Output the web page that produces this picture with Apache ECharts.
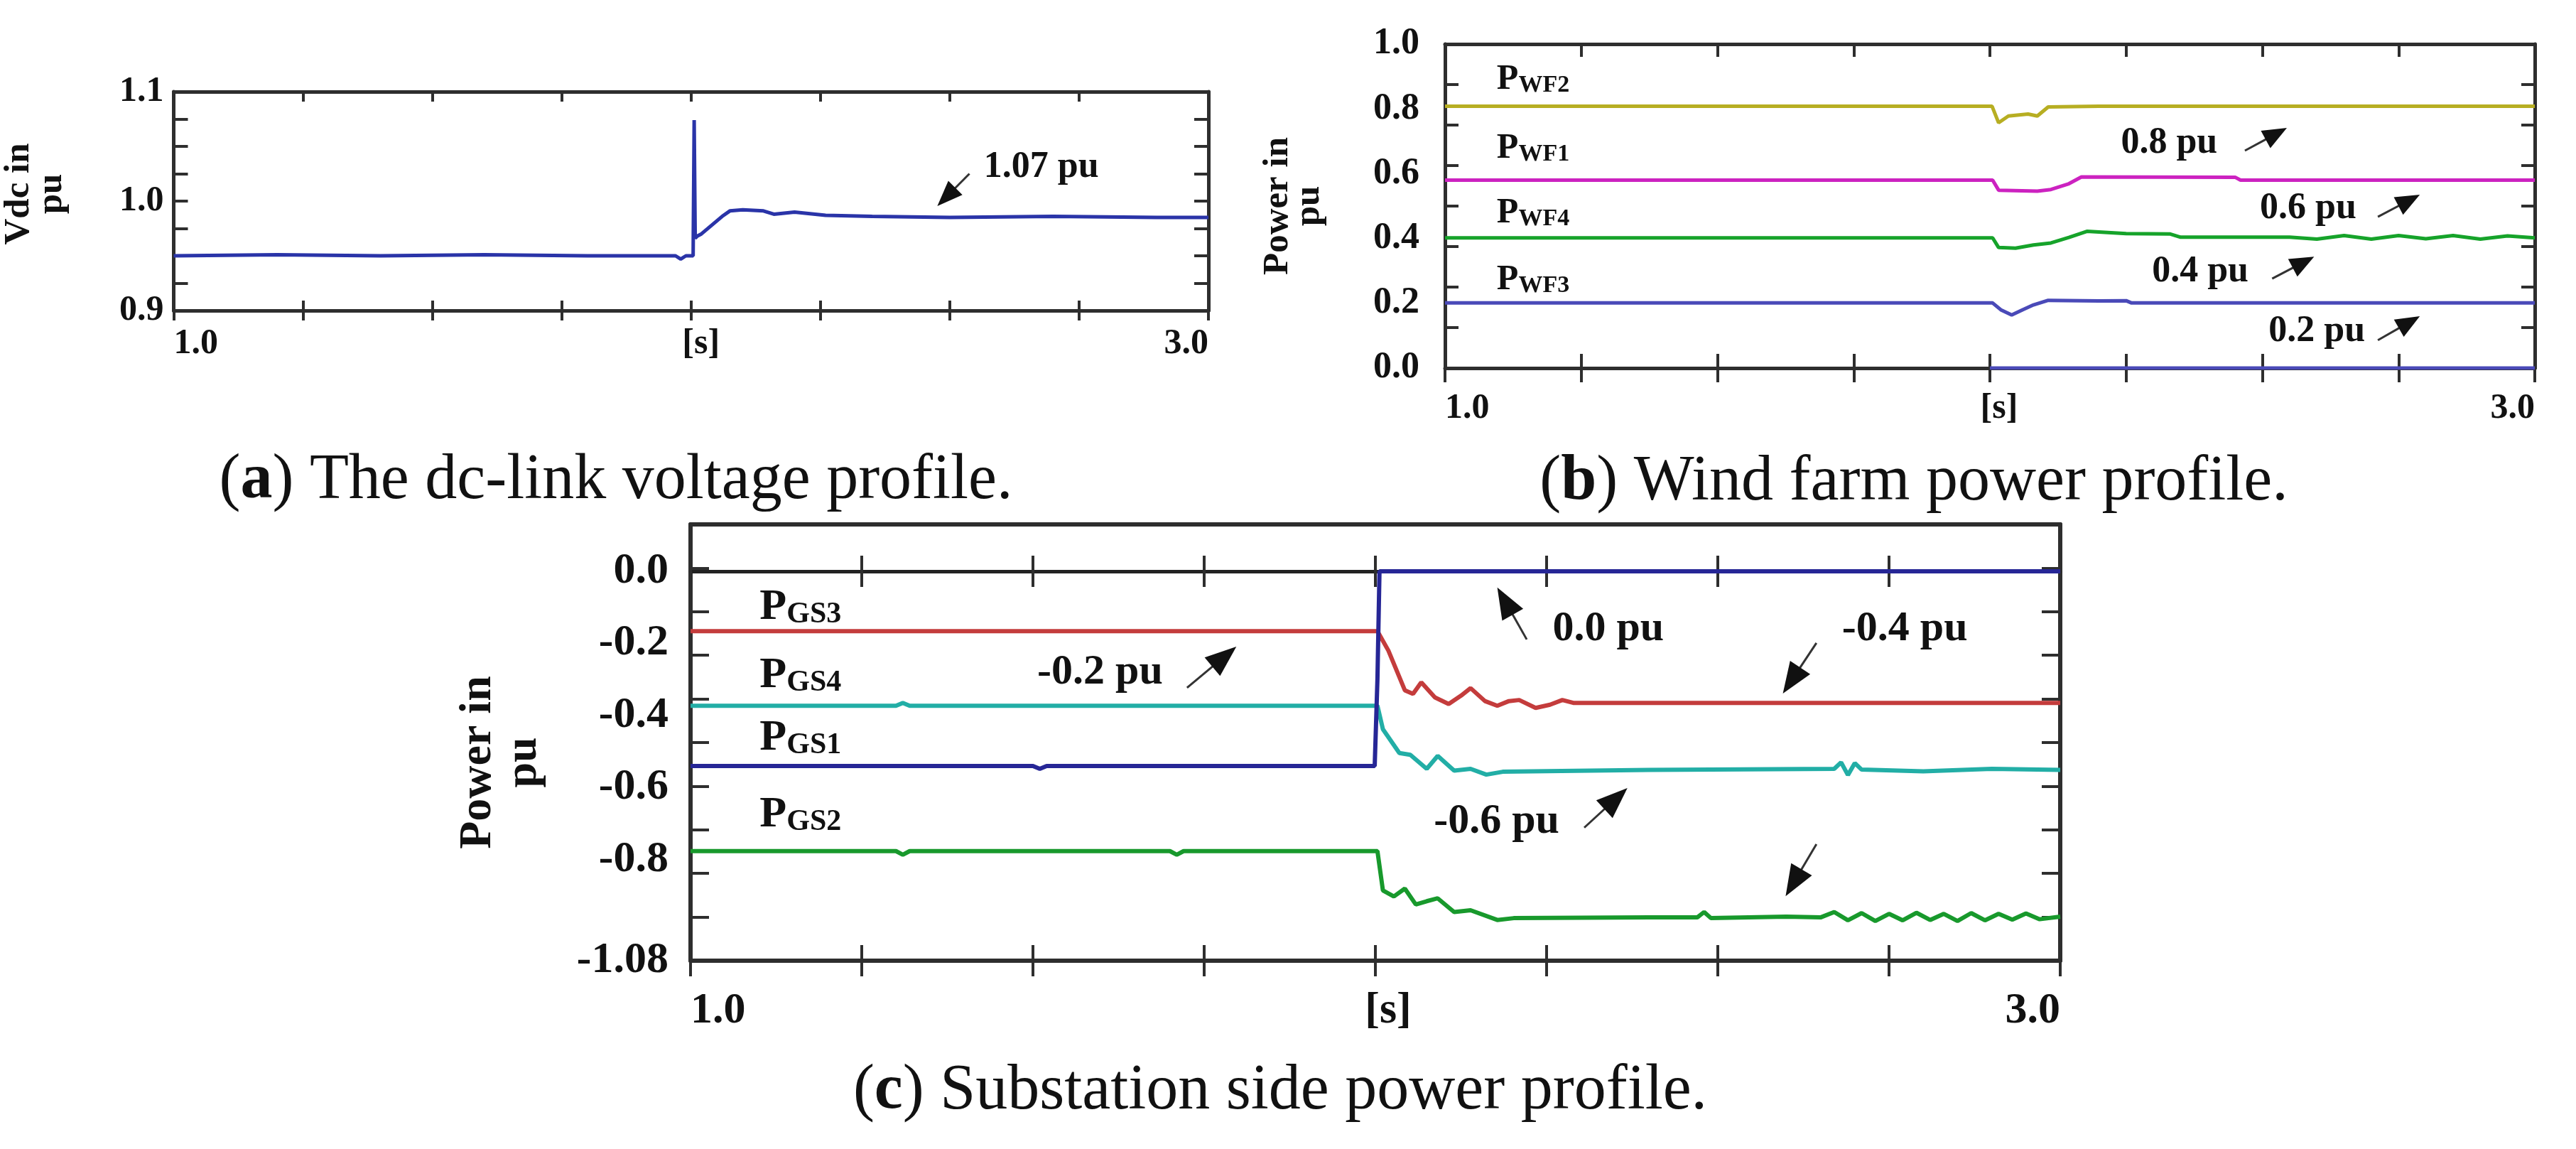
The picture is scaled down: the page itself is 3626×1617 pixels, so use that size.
<!DOCTYPE html>
<html>
<head>
<meta charset="utf-8">
<script src="https://cdn.jsdelivr.net/npm/echarts@6/dist/echarts.min.js"></script>
<style>
html,body{margin:0;padding:0;background:#fff;}
#c{width:3626px;height:1617px;}
</style>
</head>
<body>
<div id="c"></div>
<script>
// ---------------- data ----------------
const timeMin = 1.0, timeMax = 3.0, timeStep = 0.25;
const xTickValues = [1.0, 2.0, 3.0];
const xTickTexts = ['1.0', '[s]', '3.0'];

const vdcTickValues = [0.9, 1.0, 1.1];
const wfTickValues = [0.0, 0.2, 0.4, 0.6, 0.8, 1.0];
const gsTickValues = [0.0, -0.2, -0.4, -0.6, -0.8, -1.08];
const gsTickTexts = ['0.0', '-0.2', '-0.4', '-0.6', '-0.8', '-1.08'];

// (a) dc-link voltage  [time s, pu]
const vdc = [[1.0,0.950],[1.2,0.951],[1.4,0.950],[1.6,0.951],[1.8,0.950],[1.97,0.950],[1.98,0.947],[1.99,0.950],
  [2.004,0.950],[2.006,1.074],[2.008,0.966],[2.012,0.968],[2.02,0.970],[2.04,0.978],[2.06,0.986],[2.075,0.991],
  [2.1,0.992],[2.14,0.991],[2.16,0.988],[2.2,0.990],[2.26,0.987],[2.35,0.986],[2.5,0.985],[2.7,0.986],[2.9,0.985],[3.0,0.985]];

// (b) wind farm powers
const pwf2 = [[1.0,0.808],[2.004,0.808],[2.016,0.757],[2.034,0.778],[2.07,0.784],[2.087,0.778],[2.107,0.806],[2.2,0.808],[3.0,0.808]];
const pwf1 = [[1.0,0.580],[2.005,0.580],[2.016,0.549],[2.087,0.546],[2.112,0.551],[2.145,0.569],[2.168,0.590],[2.45,0.589],[2.46,0.580],[3.0,0.580]];
const pwf4 = [[1.0,0.402],[2.005,0.402],[2.016,0.372],[2.047,0.370],[2.08,0.380],[2.112,0.386],[2.145,0.403],[2.178,0.422],
  [2.25,0.415],[2.33,0.414],[2.35,0.404],[2.55,0.404],[2.6,0.398],[2.65,0.409],[2.7,0.398],[2.75,0.409],[2.8,0.399],
  [2.85,0.409],[2.9,0.398],[2.95,0.408],[3.0,0.402]];
const pwf3 = [[1.0,0.201],[2.005,0.201],[2.02,0.180],[2.04,0.164],[2.06,0.180],[2.08,0.195],[2.107,0.209],[2.2,0.207],[2.25,0.208],[2.26,0.201],[3.0,0.201]];
const pwfZero = [[2.0,0.0],[3.0,0.0]];

// (c) substation side powers
const pgs1 = [[1.0,-0.540],[1.5,-0.540],[1.51,-0.548],[1.52,-0.540],[1.999,-0.540],[2.003,-0.300],[2.006,0.0],[3.0,0.0]];
const pgs3 = [[1.0,-0.166],[2.003,-0.166],[2.019,-0.220],[2.043,-0.330],[2.055,-0.340],[2.067,-0.308],[2.087,-0.350],
  [2.107,-0.368],[2.125,-0.345],[2.139,-0.324],[2.16,-0.360],[2.178,-0.373],[2.195,-0.360],[2.21,-0.357],[2.234,-0.379],
  [2.255,-0.370],[2.273,-0.357],[2.289,-0.365],[3.0,-0.365]];
const pgs4 = [[1.0,-0.373],[1.3,-0.373],[1.31,-0.365],[1.32,-0.373],[2.003,-0.373],[2.011,-0.438],[2.035,-0.504],
  [2.051,-0.509],[2.075,-0.548],[2.091,-0.512],[2.115,-0.553],[2.139,-0.548],[2.162,-0.564],[2.186,-0.556],[2.4,-0.551],
  [2.67,-0.548],[2.68,-0.530],[2.69,-0.565],[2.70,-0.532],[2.71,-0.550],[2.8,-0.555],[2.9,-0.548],[3.0,-0.551]];
const pgs2 = [[1.0,-0.776],[1.3,-0.776],[1.31,-0.786],[1.32,-0.776],[1.7,-0.776],[1.71,-0.786],[1.72,-0.776],[2.003,-0.776],
  [2.011,-0.885],[2.027,-0.902],[2.043,-0.880],[2.059,-0.924],[2.075,-0.915],[2.091,-0.907],[2.115,-0.945],[2.139,-0.940],
  [2.178,-0.967],[2.202,-0.962],[2.4,-0.960],[2.47,-0.960],[2.48,-0.945],[2.49,-0.962],[2.6,-0.958],[2.65,-0.960],
  [2.67,-0.945],[2.69,-0.968],[2.71,-0.948],[2.73,-0.970],[2.75,-0.950],[2.77,-0.968],[2.79,-0.947],[2.81,-0.967],
  [2.83,-0.950],[2.85,-0.970],[2.87,-0.948],[2.89,-0.968],[2.91,-0.950],[2.93,-0.966],[2.95,-0.949],[2.97,-0.965],[3.0,-0.958]];

// annotations (data coordinates of each panel)
const annotA = [{text:'1.07 pu', at:[2.677,1.031], from:[2.538,1.025], to:[2.476,0.9955]}];
const annotB = [
  {text:'0.8 pu', at:[2.329,0.693], from:[2.468,0.671], to:[2.545,0.741]},
  {text:'0.6 pu', at:[2.584,0.493], from:[2.712,0.467], to:[2.789,0.535]},
  {text:'0.4 pu', at:[2.386,0.296], from:[2.518,0.276], to:[2.595,0.344]},
  {text:'0.2 pu', at:[2.600,0.112], from:[2.712,0.086], to:[2.789,0.160]}
];
const annotC = [
  {text:'-0.2 pu', at:[1.598,-0.280], from:[1.725,-0.323], to:[1.797,-0.209]},
  {text:'0.0 pu',  at:[2.340,-0.160], from:[2.221,-0.189], to:[2.178,-0.045]},
  {text:'-0.4 pu', at:[2.773,-0.160], from:[2.644,-0.199], to:[2.595,-0.339]},
  {text:'-0.6 pu', at:[2.177,-0.694], from:[2.305,-0.711], to:[2.368,-0.601]},
  {text:'',        at:null,           from:[2.644,-0.757], to:[2.599,-0.901]}
];
const namesB = [{sub:'WF2', at:[1.095,0.890]},{sub:'WF1', at:[1.095,0.678]},{sub:'WF4', at:[1.095,0.478]},{sub:'WF3', at:[1.095,0.272]}];
const namesC = [{sub:'GS3', at:[1.101,-0.100]},{sub:'GS4', at:[1.101,-0.290]},{sub:'GS1', at:[1.101,-0.463]},{sub:'GS2', at:[1.101,-0.676]}];

// ---------------- chart ----------------
const FONT = '"Liberation Serif", "Times New Roman", serif';
const AX = '#2e2e2e';
const chart = echarts.init(document.getElementById('c'), null, {renderer:'canvas', width:3626, height:1617});

function fmtX(v){
  for (let i = 0; i < xTickValues.length; i++) {
    if (Math.abs(v - xTickValues[i]) < 1e-6) return xTickTexts[i] === '[s]' ? '{s|[s]}' : xTickTexts[i];
  }
  return '';
}

function xAxesFor(gi, c){
  const base = {type:'value', gridIndex:gi, min:timeMin, max:timeMax, interval:timeStep, splitLine:{show:false}};
  const tl = {color:AX, width:4};
  return [
    Object.assign({}, base, {position:'bottom',
      axisLine:{show:true, onZero:false, lineStyle:{color:AX, width:c.lw}},
      axisTick:{show:true, inside:true, length:c.tick, lineStyle:tl},
      axisLabel:{show:true, margin:c.xMargin, formatter:fmtX, fontFamily:FONT, fontWeight:'bold', fontSize:c.xfs, color:'#111',
        alignMinLabel:'left', alignMaxLabel:'right', showMinLabel:true, showMaxLabel:true,
        rich:{s:{fontFamily:FONT, fontWeight:'bold', fontSize:c.xfs, color:'#111', padding:[0,0,0,c.sPad]}}}}),
    Object.assign({}, base, {position:'bottom',
      axisLine:{show:false, onZero:false},
      axisTick:{show:true, inside:false, length:c.tick, lineStyle:tl},
      axisLabel:{show:false}}),
    Object.assign({}, base, {position:'top',
      axisLine:{show:true, onZero:false, lineStyle:{color:AX, width:c.lw}},
      axisTick:{show:c.topTicks, inside:true, length:c.topTick, lineStyle:tl},
      axisLabel:{show:false}})
  ];
}

function yAxesFor(gi, c){
  const tl = {color:AX, width:4};
  return [
    {type:'value', gridIndex:gi, position:'left', min:c.min, max:c.max, interval:c.interval,
      axisLine:{show:true, onZero:false, lineStyle:{color:AX, width:c.lw}},
      axisTick:{show:false}, splitLine:{show:false},
      axisLabel:{show:true, customValues:c.labelValues, formatter:c.fmt, margin:c.yMargin,
        fontFamily:FONT, fontWeight:'bold', fontSize:c.yfs, color:'#111'},
      name:c.name, nameLocation:'middle', nameRotate:90, nameGap:c.nameGap,
      nameTextStyle:{fontFamily:FONT, fontWeight:'bold', fontSize:c.nfs, lineHeight:c.nlh, color:'#111', padding:c.namePad}},
    {type:'value', gridIndex:gi, position:'left', min:0, max:c.nTicks, interval:1,
      axisLine:{show:false, onZero:false}, axisTick:{show:true, inside:true, length:c.tick, lineStyle:tl},
      axisLabel:{show:false}, splitLine:{show:false}},
    {type:'value', gridIndex:gi, position:'right', min:0, max:c.nTicks, interval:1,
      axisLine:{show:true, onZero:false, lineStyle:{color:AX, width:c.lw}},
      axisTick:{show:true, inside:true, length:c.tick, lineStyle:tl},
      axisLabel:{show:false}, splitLine:{show:false}}
  ];
}

function lookupFmt(values, texts, digits){
  return function(v){
    for (let i = 0; i < values.length; i++) if (Math.abs(v - values[i]) < 1e-6) return texts ? texts[i] : values[i].toFixed(digits);
    return '';
  };
}

const xAxes = [].concat(
  xAxesFor(0, {lw:5, tick:14, xMargin:22, xfs:50, sPad:28, topTicks:true, topTick:14}),
  xAxesFor(1, {lw:5, tick:20, xMargin:32, xfs:50, sPad:26, topTicks:true, topTick:18}),
  xAxesFor(2, {lw:6, tick:22, xMargin:40, xfs:62, sPad:36, topTicks:false, topTick:0}),
  [
    {type:'value', gridIndex:2, position:'bottom', min:timeMin, max:timeMax, interval:timeStep, splitLine:{show:false},
      axisLine:{show:true, onZero:true, onZeroAxisIndex:6, lineStyle:{color:'#222', width:5}},
      axisTick:{show:true, inside:true, length:22, lineStyle:{color:AX, width:4}}, axisLabel:{show:false}},
    {type:'value', gridIndex:2, position:'bottom', min:timeMin, max:timeMax, interval:timeStep, splitLine:{show:false},
      axisLine:{show:false, onZero:true, onZeroAxisIndex:6},
      axisTick:{show:true, inside:false, length:22, lineStyle:{color:AX, width:4}}, axisLabel:{show:false}}
  ]
);

const yAxes = [].concat(
  yAxesFor(0, {min:0.9, max:1.1, interval:0.1, labelValues:vdcTickValues, fmt:lookupFmt(vdcTickValues, null, 1),
    lw:5, yMargin:14, yfs:50, name:'Vdc in\npu', nameGap:149, nfs:51, nlh:46, namePad:[0,0,0,20], nTicks:8, tick:20}),
  yAxesFor(1, {min:0, max:1.0, interval:0.2, labelValues:wfTickValues, fmt:lookupFmt(wfTickValues, null, 1),
    lw:5, yMargin:36, yfs:52, name:'Power in\npu', nameGap:169, nfs:51, nlh:44, namePad:0, nTicks:8, tick:19}),
  yAxesFor(2, {min:-1.08, max:0.13, interval:null, labelValues:gsTickValues, fmt:lookupFmt(gsTickValues, gsTickTexts),
    lw:6, yMargin:31, yfs:62, name:'Power in\npu', nameGap:203, nfs:64, nlh:64, namePad:[0,56,0,0], nTicks:10, tick:26})
);

function line(data, xi, yi, color, w){
  return {type:'line', data:data, xAxisIndex:xi, yAxisIndex:yi, showSymbol:false, symbol:'none',
    lineStyle:{color:color, width:w}, itemStyle:{color:color}, z:5, silent:true};
}

const option = {
  animation:false,
  backgroundColor:'#ffffff',
  grid:[
    {left:232, top:129, width:1469, height:308},
    {left:2034, top:62, width:1534, height:456},
    {left:972, top:738, width:1928, height:614}
  ],
  xAxis:xAxes,
  yAxis:yAxes,
  series:[
    line(vdc, 0, 0, '#2a34a8', 5),
    line(pwf2, 3, 3, '#b7ae22', 5),
    line(pwf1, 3, 3, '#cc22c0', 5),
    line(pwf4, 3, 3, '#16a32a', 5),
    line(pwf3, 3, 3, '#4a4ab8', 5),
    line(pwfZero, 3, 3, '#4a4ab8', 5),
    line(pgs3, 6, 6, '#c43c3c', 6),
    line(pgs4, 6, 6, '#22aea6', 6),
    line(pgs2, 6, 6, '#18992c', 6),
    line(pgs1, 6, 6, '#262696', 6)
  ]
};
chart.setOption(option);

// ---------------- annotations / captions ----------------
const graphics = [];
function toPx(xi, yi, p){ return chart.convertToPixel({xAxisIndex:xi, yAxisIndex:yi}, p); }
function addArrow(p0, p1, len, wid, lw){
  const dx = p1[0]-p0[0], dy = p1[1]-p0[1];
  const d = Math.hypot(dx, dy), ux = dx/d, uy = dy/d;
  const bx = p1[0]-ux*len, by = p1[1]-uy*len, nx = -uy, ny = ux;
  graphics.push({type:'line', z:50, shape:{x1:p0[0], y1:p0[1], x2:bx+ux*4, y2:by+uy*4}, style:{stroke:'#333', lineWidth:lw}});
  graphics.push({type:'polygon', z:51, shape:{points:[[p1[0],p1[1]],[bx+nx*wid/2, by+ny*wid/2],[bx-nx*wid/2, by-ny*wid/2]]}, style:{fill:'#111'}});
}
function addText(p, text, fs){
  graphics.push({type:'text', z:52, x:p[0], y:p[1], style:{text:text, font:'bold '+fs+'px '+FONT, fill:'#111',
    align:'center', verticalAlign:'middle', textAlign:'center', textVerticalAlign:'middle'}});
}
function addAnnots(xi, yi, list, fs, len, wid, lw){
  list.forEach(a => {
    if (a.text) addText(toPx(xi, yi, a.at), a.text, fs);
    addArrow(toPx(xi, yi, a.from), toPx(xi, yi, a.to), len, wid, lw);
  });
}
addAnnots(0, 0, annotA, 52, 36, 28, 3);
addAnnots(3, 3, annotB, 52, 34, 28, 3);
addAnnots(6, 6, annotC, 60, 44, 34, 3);

function addNames(xi, yi, list, big, small){
  list.forEach(n => {
    const p = toPx(xi, yi, n.at);
    graphics.push({type:'text', z:52, x:p[0], y:p[1], style:{text:'{p|P}{s|'+n.sub+'}', align:'left', verticalAlign:'middle',
      textAlign:'left', textVerticalAlign:'middle',
      rich:{p:{fontFamily:FONT, fontWeight:'bold', fontSize:big, fill:'#111', color:'#111', verticalAlign:'bottom'},
            s:{fontFamily:FONT, fontWeight:'bold', fontSize:small, fill:'#111', color:'#111', verticalAlign:'bottom'}}}});
  });
}
addNames(3, 3, namesB, 50, 34);
addNames(6, 6, namesC, 62, 42);

function addCaption(x, y, letter, rest){
  graphics.push({type:'text', z:52, x:x, y:y, style:{text:'{n|(}{b|'+letter+'}{n|) '+rest+'}', align:'center', verticalAlign:'middle',
    textAlign:'center', textVerticalAlign:'middle',
    rich:{n:{fontFamily:FONT, fontSize:90, fill:'#111', color:'#111'},
          b:{fontFamily:FONT, fontWeight:'bold', fontSize:90, fill:'#111', color:'#111'}}}});
}
addCaption(867, 677, 'a', 'The dc-link voltage profile.');
addCaption(2694, 679, 'b', 'Wind farm power profile.');
addCaption(1802, 1536, 'c', 'Substation side power profile.');

chart.setOption({graphic:{elements:graphics}});
</script>
</body>
</html>
